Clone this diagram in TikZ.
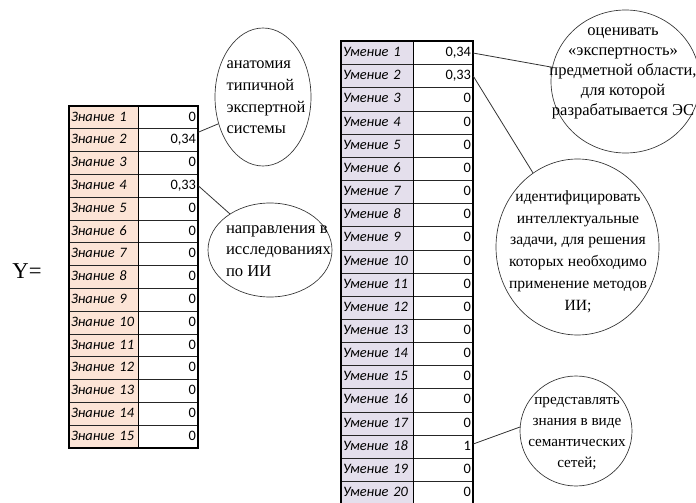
\documentclass[tikz,border=0pt]{standalone}
\usepackage{fontspec}
\setmainfont{Liberation Serif}
\newfontfamily\calib{Carlito}
\usetikzlibrary{shapes.geometric}
\definecolor{peach}{RGB}{252,228,214}
\definecolor{lav}{RGB}{228,223,236}
\begin{document}
\begin{tikzpicture}[x=0.75pt,y=-0.75pt,
  cell/.style={draw=black!85, line width=0.5pt, inner xsep=1.5pt, inner ysep=0pt,
    text height=7.6pt, text depth=2.2pt, font=\calib\fontsize{10.8}{12}\selectfont},
  lab/.style={cell, font=\calib\itshape\fontsize{10.8}{12}\selectfont, align=left},
  val/.style={cell, fill=white, align=right, text width=42pt, minimum width=45pt},
  lrow/.style={minimum height=17.1pt},
  rrow/.style={minimum height=17.36pt},
  oval/.style={draw=black!80, line width=0.5pt, ellipse, inner sep=0pt},
  otext/.style={inner sep=0pt},
  conn/.style={draw=black!80, line width=0.6pt},
  frame/.style={line width=1.5pt}]
\useasboundingbox (0,0) rectangle (696,503);

% left table
\foreach \i/\v in {1/0,2/{0,34},3/0,4/{0,33},5/0,6/0,7/0,8/0,9/0,10/0,11/0,12/0,13/0,14/0,15/0}{
  \node[lab, lrow, fill=peach, text width=48.75pt, minimum width=51.75pt] (zl\i) at (103.5,{106+22.8*(\i-0.5)}) {Знание \i};
  \node[val, lrow] (zv\i) at (168,{106+22.8*(\i-0.5)}) {\v};
}
\draw[frame] (zl1.north west) rectangle (zv15.south east);
\draw[line width=1.2pt] (zl1.north east) -- (zl15.south east);

% right table
\foreach \i/\v in {1/{0,34},2/{0,33},3/0,4/0,5/0,6/0,7/0,8/0,9/0,10/0,11/0,12/0,13/0,14/0,15/0,16/0,17/0,18/1,19/0,20/0}{
  \node[lab, rrow, fill=lav, text width=51pt, minimum width=54pt] (ul\i) at (377,{41.5+23.15*(\i-0.5)}) {Умение \i};
  \node[val, rrow] (uv\i) at (443,{41.5+23.15*(\i-0.5)}) {\v};
}
\draw[frame] (ul1.north west) rectangle (uv20.south east);
\draw[line width=1.2pt] (ul1.north east) -- (ul20.south east);

% Y=
\node[inner sep=0pt, font=\fontsize{17}{20}\selectfont] (y) at (27,271) {Y=};

% ellipses
\node[oval, minimum width=72pt, minimum height=103.5pt] (e1) at (263,97) {};
\node[otext, align=left, font=\fontsize{12.3}{16.3}\selectfont] (t1) at (266,97.5) {анатомия\\типичной\\экспертной\\системы};

\node[oval, minimum width=93pt, minimum height=70.5pt] (e2) at (270,250) {};
\node[otext, align=left, font=\fontsize{12.5}{16.3}\selectfont] (t2) at (278.5,251) {направления в\\исследованиях\\по ИИ};

\node[oval, minimum width=111.75pt, minimum height=107.25pt] (e3) at (625.5,81.5) {};
\node[otext, align=center, font=\fontsize{12.4}{15}\selectfont] (t3) at (623,73) {оценивать\\«экспертность»\\предметной области,\\для которой\\разрабатывается ЭС};

\node[oval, minimum width=122.25pt, minimum height=132pt] (e4) at (577.5,247) {};
\node[otext, align=center, font=\fontsize{11.7}{16.35}\selectfont] (t4) at (578,251.5) {идентифицировать\\интеллектуальные\\задачи, для решения\\которых необходимо\\применение методов\\ИИ;};

\node[oval, minimum width=84pt, minimum height=82.5pt] (e5) at (576,431) {};
\node[otext, align=center, font=\fontsize{11.4}{15.75}\selectfont] (t5) at (577,433.5) {представлять\\знания в виде\\семантических\\сетей;};

% connectors
\draw[conn] ([yshift=6pt]zv2.east) -- (e1.211);
\draw[conn] (zv4.east) -- (e2.138);
\draw[conn] (uv1.east) -- (e3.169.6);
\draw[conn] (uv2.east) -- (e4.121);
\draw[conn] ([yshift=2pt]uv18.east) -- (e5.176);
\end{tikzpicture}
\end{document}
